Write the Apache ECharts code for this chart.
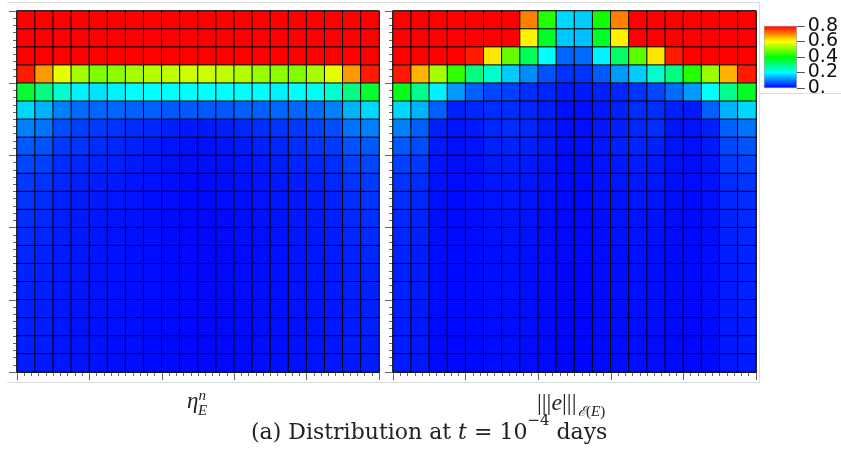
<!DOCTYPE html>
<html>
<head>
<meta charset="utf-8">
<script src="https://cdn.jsdelivr.net/npm/echarts@6/dist/echarts.min.js"></script>
<style>html,body{margin:0;padding:0;background:#fff;}#c{width:841px;height:457px;}</style>
</head>
<body>
<div id="c"></div>
<script>
// ---- data ----
var columns = ['1','2','3','4','5','6','7','8','9','10','11','12','13','14','15','16','17','18','19','20'];
var rowNames = ['1','2','3','4','5','6','7','8','9','10','11','12','13','14','15','16','17','18','19','20'];

// left panel: eta_E^n (rows top to bottom)
var etaRows = [
  [0.8,0.8,0.8,0.8,0.8,0.8,0.8,0.8,0.8,0.8,0.8,0.8,0.8,0.8,0.8,0.8,0.8,0.8,0.8,0.8],
  [0.8,0.8,0.8,0.8,0.8,0.8,0.8,0.8,0.8,0.8,0.8,0.8,0.8,0.8,0.8,0.8,0.8,0.8,0.8,0.8],
  [0.8,0.8,0.8,0.8,0.8,0.8,0.8,0.8,0.8,0.8,0.8,0.8,0.8,0.8,0.8,0.8,0.8,0.8,0.8,0.8],
  [0.78,0.68,0.58,0.53,0.50,0.51,0.53,0.54,0.55,0.56,0.56,0.55,0.54,0.52,0.51,0.50,0.53,0.58,0.68,0.78],
  [0.36,0.30,0.24,0.19,0.18,0.19,0.20,0.20,0.20,0.20,0.20,0.20,0.20,0.20,0.19,0.20,0.21,0.24,0.30,0.36],
  [0.17,0.14,0.10,0.085,0.08,0.08,0.075,0.075,0.07,0.07,0.07,0.07,0.075,0.075,0.08,0.08,0.085,0.10,0.14,0.17],
  [0.10,0.09,0.06,0.05,0.045,0.04,0.035,0.03,0.025,0.02,0.02,0.025,0.03,0.035,0.04,0.045,0.05,0.06,0.09,0.10],
  [0.07,0.065,0.045,0.04,0.035,0.03,0.025,0.02,0.015,0.012,0.012,0.015,0.02,0.025,0.03,0.035,0.04,0.045,0.065,0.07],
  [0.055,0.05,0.035,0.03,0.028,0.024,0.02,0.016,0.012,0.01,0.01,0.012,0.016,0.02,0.024,0.028,0.03,0.035,0.05,0.055],
  [0.045,0.04,0.03,0.025,0.022,0.02,0.016,0.013,0.01,0.008,0.008,0.01,0.013,0.016,0.02,0.022,0.025,0.03,0.04,0.045],
  [0.04,0.035,0.026,0.022,0.02,0.017,0.014,0.011,0.009,0.007,0.007,0.009,0.011,0.014,0.017,0.02,0.022,0.026,0.035,0.04],
  [0.036,0.032,0.024,0.02,0.018,0.015,0.013,0.01,0.008,0.007,0.007,0.008,0.01,0.013,0.015,0.018,0.02,0.024,0.032,0.036],
  [0.033,0.03,0.022,0.019,0.017,0.014,0.012,0.01,0.008,0.006,0.006,0.008,0.01,0.012,0.014,0.017,0.019,0.022,0.03,0.033],
  [0.03,0.027,0.021,0.018,0.016,0.013,0.011,0.009,0.007,0.006,0.006,0.007,0.009,0.011,0.013,0.016,0.018,0.021,0.027,0.03],
  [0.028,0.025,0.02,0.017,0.015,0.013,0.011,0.009,0.007,0.006,0.006,0.007,0.009,0.011,0.013,0.015,0.017,0.02,0.025,0.028],
  [0.026,0.024,0.019,0.016,0.014,0.012,0.01,0.009,0.007,0.006,0.006,0.007,0.009,0.01,0.012,0.014,0.016,0.019,0.024,0.026],
  [0.025,0.023,0.018,0.016,0.014,0.012,0.01,0.008,0.007,0.006,0.006,0.007,0.008,0.01,0.012,0.014,0.016,0.018,0.023,0.025],
  [0.024,0.022,0.018,0.015,0.013,0.012,0.01,0.008,0.007,0.006,0.006,0.007,0.008,0.01,0.012,0.013,0.015,0.018,0.022,0.024],
  [0.023,0.021,0.017,0.015,0.013,0.011,0.01,0.008,0.007,0.006,0.006,0.007,0.008,0.01,0.011,0.013,0.015,0.017,0.021,0.023],
  [0.022,0.02,0.017,0.015,0.013,0.011,0.01,0.008,0.007,0.006,0.006,0.007,0.008,0.01,0.011,0.013,0.015,0.017,0.02,0.022]
];

// right panel: |||e|||_{E(E)} (rows top to bottom)
var errRows = [
  [0.8,0.8,0.8,0.8,0.8,0.8,0.8,0.70,0.43,0.17,0.16,0.41,0.70,0.8,0.8,0.8,0.8,0.8,0.8,0.8],
  [0.8,0.8,0.8,0.8,0.8,0.8,0.8,0.61,0.37,0.155,0.15,0.37,0.61,0.8,0.8,0.8,0.8,0.8,0.8,0.8],
  [0.8,0.8,0.8,0.8,0.78,0.62,0.48,0.33,0.20,0.08,0.085,0.19,0.32,0.47,0.62,0.78,0.8,0.8,0.8,0.8],
  [0.78,0.66,0.53,0.44,0.30,0.24,0.16,0.11,0.065,0.04,0.04,0.07,0.12,0.16,0.24,0.30,0.43,0.52,0.66,0.78],
  [0.38,0.29,0.19,0.12,0.075,0.055,0.05,0.035,0.03,0.02,0.02,0.025,0.03,0.04,0.055,0.085,0.12,0.20,0.29,0.37],
  [0.17,0.14,0.075,0.025,0.03,0.035,0.035,0.03,0.022,0.012,0.012,0.018,0.025,0.035,0.035,0.025,0.02,0.075,0.14,0.17],
  [0.10,0.075,0.025,0.015,0.02,0.03,0.035,0.03,0.02,0.012,0.012,0.02,0.025,0.03,0.035,0.015,0.015,0.025,0.075,0.09],
  [0.07,0.06,0.02,0.012,0.015,0.025,0.028,0.025,0.018,0.01,0.01,0.018,0.025,0.028,0.025,0.015,0.012,0.02,0.055,0.065],
  [0.05,0.045,0.016,0.01,0.012,0.02,0.022,0.02,0.015,0.008,0.008,0.015,0.02,0.022,0.02,0.012,0.01,0.016,0.045,0.05],
  [0.04,0.035,0.013,0.009,0.011,0.017,0.019,0.017,0.013,0.007,0.007,0.013,0.017,0.019,0.017,0.011,0.009,0.013,0.035,0.04],
  [0.035,0.03,0.012,0.008,0.01,0.015,0.017,0.015,0.012,0.007,0.007,0.012,0.015,0.017,0.015,0.01,0.008,0.012,0.03,0.035],
  [0.032,0.027,0.011,0.008,0.009,0.013,0.015,0.014,0.011,0.006,0.006,0.011,0.014,0.015,0.013,0.009,0.008,0.011,0.027,0.032],
  [0.03,0.025,0.01,0.007,0.009,0.012,0.014,0.013,0.01,0.006,0.006,0.01,0.013,0.014,0.012,0.009,0.007,0.01,0.025,0.03],
  [0.028,0.023,0.01,0.007,0.008,0.011,0.013,0.012,0.009,0.006,0.006,0.009,0.012,0.013,0.011,0.008,0.007,0.01,0.023,0.028],
  [0.026,0.022,0.009,0.007,0.008,0.011,0.012,0.011,0.009,0.005,0.005,0.009,0.011,0.012,0.011,0.008,0.007,0.009,0.022,0.026],
  [0.025,0.021,0.009,0.006,0.008,0.01,0.012,0.011,0.008,0.005,0.005,0.008,0.011,0.012,0.01,0.008,0.006,0.009,0.021,0.025],
  [0.024,0.02,0.009,0.006,0.007,0.01,0.011,0.01,0.008,0.005,0.005,0.008,0.01,0.011,0.01,0.007,0.006,0.009,0.02,0.024],
  [0.023,0.019,0.008,0.006,0.007,0.009,0.011,0.01,0.008,0.005,0.005,0.008,0.01,0.011,0.009,0.007,0.006,0.008,0.019,0.023],
  [0.022,0.018,0.008,0.006,0.007,0.009,0.01,0.009,0.007,0.005,0.005,0.007,0.009,0.01,0.009,0.007,0.006,0.008,0.018,0.022],
  [0.021,0.018,0.008,0.006,0.007,0.009,0.01,0.009,0.007,0.005,0.005,0.007,0.009,0.01,0.009,0.007,0.006,0.008,0.018,0.021]
];

// colorbar tick labels (split into two interleaved sets so none is hidden)
var colorTicksA = [0, 0.4, 0.8];
var colorTicksB = [0.2, 0.6];
var colorMin = 0, colorMax = 0.8;
var palette = ['#0000ff', '#00ffff', '#00ff00', '#ffff00', '#ff0000'];

function toCells(rows) {
  var out = [];
  for (var r = 0; r < rows.length; r++)
    for (var c = 0; c < rows[r].length; c++)
      out.push([c, r, rows[r][c]]);
  return out;
}

var chart = echarts.init(document.getElementById('c'), null, {renderer: 'canvas'});

var tickAxisBase = {
  type: 'value', min: 0, max: 20, interval: 4,
  axisLine: {show: true, lineStyle: {color: '#777', width: 1}},
  axisTick: {show: true, inside: false, length: 8, lineStyle: {color: '#666', width: 1}},
  minorTick: {show: true, splitNumber: 10, length: 4, lineStyle: {color: '#666', width: 1}},
  axisLabel: {show: false},
  splitLine: {show: false},
  minorSplitLine: {show: false}
};
function tickAxis(grid, pos) {
  return Object.assign({}, tickAxisBase, {gridIndex: grid, position: pos});
}
var hiddenCat = function (grid, data, inv) {
  return {type: 'category', gridIndex: grid, data: data, inverse: !!inv, show: false,
          axisLine: {show: false}, axisTick: {show: false}, axisLabel: {show: false}, splitLine: {show: false}};
};
function colorAxis(values) {
  return {
    type: 'value', gridIndex: 2, min: colorMin, max: colorMax, position: 'right', offset: 0,
    axisLine: {show: false},
    axisTick: {show: true, inside: false, length: 8, customValues: values, lineStyle: {color: '#555'}},
    axisLabel: {show: true, margin: 11, color: '#111', fontFamily: 'DejaVu Sans', fontSize: 19,
      customValues: values, showMinLabel: true, showMaxLabel: true,
      formatter: function (v) { return v === 0 ? '0.' : v.toFixed(1); }},
    splitLine: {show: false}
  };
}

var serif = 'Liberation Serif';
var wide = 'DejaVu Serif';
var ink = '#222';

var option = {
  backgroundColor: '#fff',
  animation: false,
  grid: [
    {left: 17, top: 11, width: 362, height: 361, show: true, borderColor: '#777', borderWidth: 1},
    {left: 393, top: 11, width: 363, height: 361, show: true, borderColor: '#777', borderWidth: 1},
    {left: 764, top: 26, width: 36, height: 62, show: false}
  ],
  xAxis: [
    hiddenCat(0, columns),
    hiddenCat(1, columns),
    tickAxis(0, 'bottom'),
    tickAxis(1, 'bottom'),
    {type: 'category', gridIndex: 2, data: ['bar'], show: false}
  ],
  yAxis: [
    hiddenCat(0, rowNames, true),
    hiddenCat(1, rowNames, true),
    tickAxis(0, 'left'),
    tickAxis(1, 'left'),
    colorAxis(colorTicksA),
    colorAxis(colorTicksB)
  ],
  visualMap: {
    show: false, type: 'continuous', min: colorMin, max: colorMax, seriesIndex: [0, 1],
    inRange: {color: palette}
  },
  title: [
    {
      text: '{i|η}{sup|n}',
      left: 182, top: 384,
      textStyle: {
        fontWeight: 'normal',
        rich: {
          i: {fontFamily: serif, fontStyle: 'italic', fontWeight: 'normal', fontSize: 23, color: ink, lineHeight: 26},
          sup: {fontFamily: serif, fontStyle: 'italic', fontWeight: 'normal', fontSize: 15, color: ink, verticalAlign: 'top', lineHeight: 26}
        }
      }
    },
    {
      text: '{i|E}',
      left: 193, top: 399,
      textStyle: {fontWeight: 'normal', rich: {i: {fontFamily: serif, fontStyle: 'italic', fontWeight: 'normal', fontSize: 15, color: ink}}}
    },
    {
      text: '{n||||}{i|e}{n||||}',
      left: 532, top: 387,
      textStyle: {
        fontWeight: 'normal',
        rich: {
          n: {fontFamily: serif, fontWeight: 'normal', fontSize: 24, color: ink},
          i: {fontFamily: serif, fontStyle: 'italic', fontWeight: 'normal', fontSize: 24, color: ink}
        }
      }
    },
    {
      text: '{s|ℰ}{p|(}{i|E}{p|)}',
      left: 573, top: 400,
      textStyle: {
        fontWeight: 'normal',
        rich: {
          s: {fontFamily: wide, fontStyle: 'italic', fontWeight: 'normal', fontSize: 14, color: ink},
          p: {fontFamily: serif, fontWeight: 'normal', fontSize: 15, color: ink},
          i: {fontFamily: serif, fontStyle: 'italic', fontWeight: 'normal', fontSize: 15, color: ink}
        }
      }
    },
    {
      text: '{n|(a) Distribution at }{i|t}{n| = 10}{sup|−4}{n| days}',
      left: 246, top: 409,
      textStyle: {
        fontWeight: 'normal',
        rich: {
          n: {fontFamily: wide, fontWeight: 'normal', fontSize: 22, color: ink, lineHeight: 30, verticalAlign: 'bottom'},
          i: {fontFamily: wide, fontStyle: 'italic', fontWeight: 'normal', fontSize: 22, color: ink, lineHeight: 30, verticalAlign: 'bottom'},
          sup: {fontFamily: wide, fontWeight: 'normal', fontSize: 15, color: ink, lineHeight: 30, verticalAlign: 'top'}
        }
      }
    }
  ],
  graphic: [
    {type: 'polyline', silent: true, shape: {points: [[7, 2.5], [759.5, 2.5], [759.5, 382.5], [7, 382.5]]},
     style: {stroke: '#dcdcdc', fill: null, lineWidth: 1}},
    {type: 'line', silent: true, shape: {x1: 759.5, y1: 93.5, x2: 841, y2: 93.5},
     style: {stroke: '#dcdcdc', lineWidth: 1}}
  ],
  series: [
    {
      type: 'heatmap', xAxisIndex: 0, yAxisIndex: 0, data: toCells(etaRows),
      itemStyle: {borderColor: '#000', borderWidth: 1},
      emphasis: {disabled: true}, progressive: 0
    },
    {
      type: 'heatmap', xAxisIndex: 1, yAxisIndex: 1, data: toCells(errRows),
      itemStyle: {borderColor: '#000', borderWidth: 1},
      emphasis: {disabled: true}, progressive: 0
    },
    {
      type: 'bar', xAxisIndex: 4, yAxisIndex: 4, data: [colorMax], barWidth: '100%', silent: true,
      itemStyle: {
        borderColor: '#888', borderWidth: 0.5,
        color: new echarts.graphic.LinearGradient(0, 0, 0, 1, palette.slice().reverse().map(function (c, i, a) {
          return {offset: i / (a.length - 1), color: c};
        }))
      }
    }
  ]
};
chart.setOption(option);
</script>
</body>
</html>
